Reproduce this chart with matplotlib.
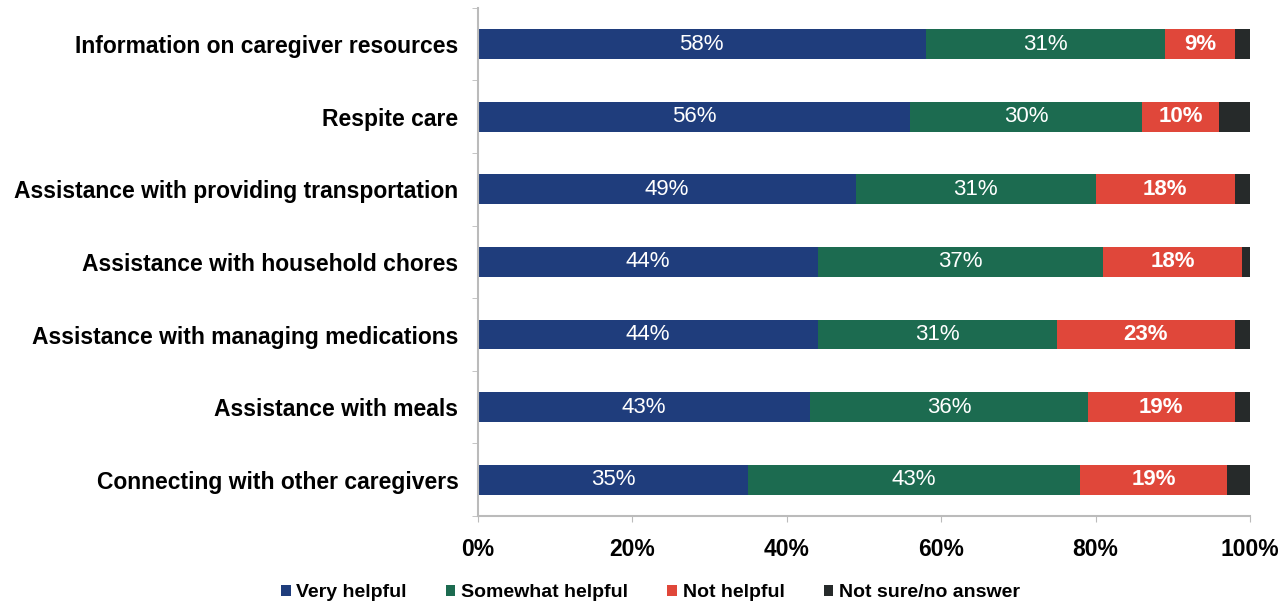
import matplotlib.pyplot as plt
import numpy as np

categories = ['Information on caregiver resources', 'Respite care',
              'Assistance with providing transportation', 'Assistance with household chores',
              'Assistance with managing medications', 'Assistance with meals',
              'Connecting with other caregivers']
very = [58, 56, 49, 44, 44, 43, 35]
somewhat = [31, 30, 31, 37, 31, 36, 43]
not_helpful = [9, 10, 18, 18, 23, 19, 19]
not_sure = [2, 4, 2, 1, 2, 2, 3]
series_names = ['Very helpful', 'Somewhat helpful', 'Not helpful', 'Not sure/no answer']
colors = ['#1f3d7c', '#1c6b50', '#e0473a', '#262a2a']

plt.rcParams['font.family'] = ['Liberation Sans', 'DejaVu Sans']

fig = plt.figure(figsize=(12.88, 6.05), dpi=100)
ax = fig.add_axes([0.371, 0.147, 0.5995, 0.840])

y = np.arange(len(categories))
left = np.zeros(len(categories))
for vals, name, c in zip([very, somewhat, not_helpful, not_sure], series_names, colors):
    vals = np.array(vals, dtype=float)
    bars = ax.barh(y, vals, left=left, height=0.41, color=c, label=name)
    if name != 'Not sure/no answer':
        for b, v in zip(bars, vals):
            ax.text(b.get_x() + b.get_width() / 2, b.get_y() + b.get_height() / 2,
                    f'{int(v)}%', color='white', ha='center', va='center',
                    fontsize=16, fontweight='bold' if name == 'Not helpful' else 'normal')
    left += vals

ax.set_xlim(0, 100)
ax.set_ylim(len(categories) - 0.5, -0.5)
ax.set_yticks(y)
ax.set_yticklabels(categories, fontsize=16.5, fontweight='bold')
ax.set_yticks(np.arange(-0.5, len(categories), 1), minor=True)
ax.tick_params(axis='y', which='major', length=0, pad=14)
ax.tick_params(axis='y', which='minor', length=4, color='#bbbbbb')
ax.set_xticks(np.arange(0, 101, 20))
ax.set_xticklabels([f'{v}%' for v in range(0, 101, 20)], fontsize=16.5, fontweight='bold')
ax.tick_params(axis='x', length=4, color='#bbbbbb', pad=12)

for s in ['top', 'right']:
    ax.spines[s].set_visible(False)
ax.spines['left'].set_color('#bbbbbb')
ax.spines['bottom'].set_color('#bbbbbb')
ax.spines['left'].set_linewidth(1.5)
ax.spines['bottom'].set_linewidth(1.5)

fig.legend(loc='center', bbox_to_anchor=(0.505, 0.02), ncol=4, frameon=False,
           prop={'weight': 'bold', 'size': 14}, handlelength=0.5, handleheight=0.5,
           handletextpad=0.3, columnspacing=2.0)

fig.savefig('out.png', dpi=100)
